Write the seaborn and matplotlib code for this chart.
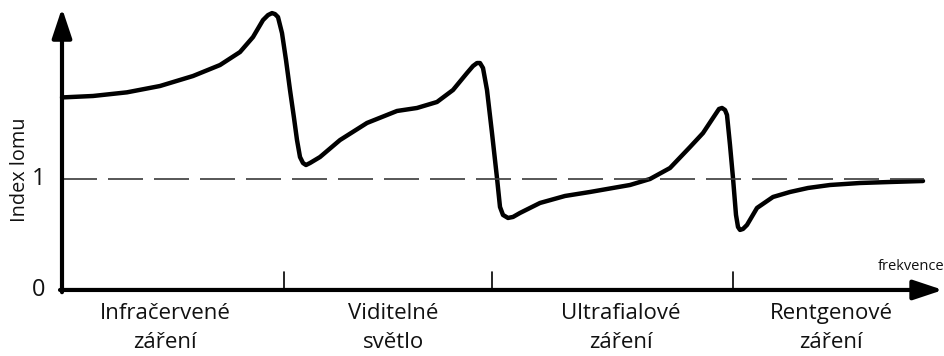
import matplotlib
matplotlib.use("Agg")
import matplotlib.pyplot as plt
import seaborn as sns
import pandas as pd

# frequency (arbitrary units) and refractive index
freq = [0, 31, 65, 98, 131, 158, 178, 191, 201, 206, 210, 213, 216, 220, 224, 228, 232, 235,
        238, 241, 244, 248, 258, 278, 305, 335, 355, 375, 391, 405, 411, 415, 418, 421, 425,
        430, 435, 438, 441, 446, 451, 458, 478, 503, 528, 568, 588, 608, 628, 641, 651, 657,
        660, 663, 665, 668, 671, 674, 676, 678, 681, 685, 695, 711, 728, 746, 768, 798, 828,
        861]
index = [1.735, 1.748, 1.781, 1.838, 1.928, 2.027, 2.144, 2.279, 2.432, 2.477, 2.495, 2.486,
         2.459, 2.315, 2.072, 1.802, 1.550, 1.351, 1.198, 1.144, 1.126, 1.144, 1.198, 1.351,
         1.505, 1.613, 1.640, 1.694, 1.802, 1.955, 2.018, 2.045, 2.045, 2.000, 1.802, 1.414,
         1.009, 0.748, 0.676, 0.649, 0.658, 0.694, 0.784, 0.847, 0.883, 0.946, 1.000, 1.099,
         1.288, 1.414, 1.550, 1.631, 1.640, 1.622, 1.577, 1.306, 1.009, 0.676, 0.568, 0.541,
         0.550, 0.586, 0.739, 0.838, 0.883, 0.919, 0.946, 0.964, 0.973, 0.982]

band_edges = [0, 222, 430, 671, 881]
band_labels = ["Infračervené\nzáření", "Viditelné\nsvětlo", "Ultrafialové\nzáření",
               "Rentgenové\nzáření"]
y_ticks = [0, 1]
y_label = "Index lomu"
x_label = "frekvence"

sns.set_theme(style="white")
plt.rcParams["font.family"] = ["Open Sans", "DejaVu Sans"]

fig = plt.figure(figsize=(9.45, 3.56), dpi=100)
ax = fig.add_axes([0, 0, 1, 1])
ax.set_xlim(-62, 883)
ax.set_ylim(-0.595, 2.613)
ax.axis("off")

df = pd.DataFrame({"freq": freq, "index": index})
sns.lineplot(data=df, x="freq", y="index", sort=False, color="black", lw=3.2,
             ax=ax, solid_joinstyle="round", solid_capstyle="round")

# dashed reference line at n = 1
ax.plot([0, 862], [1, 1], color="#3a3a3a", lw=1.2, linestyle=(0, (21, 6.6)))

# axes with arrows
ax.annotate("", xy=(881, 0), xytext=(-2, 0),
            arrowprops=dict(arrowstyle="-|>,head_length=0.6,head_width=0.2",
                            mutation_scale=30, lw=3, color="black", shrinkA=0, shrinkB=0))
ax.annotate("", xy=(0, 2.54), xytext=(0, -0.02),
            arrowprops=dict(arrowstyle="-|>,head_length=0.6,head_width=0.2",
                            mutation_scale=30, lw=3, color="black", shrinkA=0, shrinkB=0))

# band separators
for e in band_edges[1:-1]:
    ax.plot([e, e], [0, 0.16], color="black", lw=1.2)

# band labels (label centres, slightly offset from band midpoints as in the original)
label_x = [103, 331, 559, 769]
for xc, lab in zip(label_x, band_labels):
    ax.text(xc, -0.345, lab, ha="center", va="center", fontsize=16, linespacing=1.48,
            color="#111111")

# y tick labels
for t in y_ticks:
    ax.text(-23, t, str(t), ha="center", va="center", fontsize=17, color="#111111")

ax.text(-42, 1.08, y_label, rotation=90, ha="center", va="center", fontsize=14.3,
        color="#111111")
ax.text(882, 0.21, x_label, ha="right", va="center", fontsize=10.5, color="#111111")

fig.savefig("out.png", dpi=100)
